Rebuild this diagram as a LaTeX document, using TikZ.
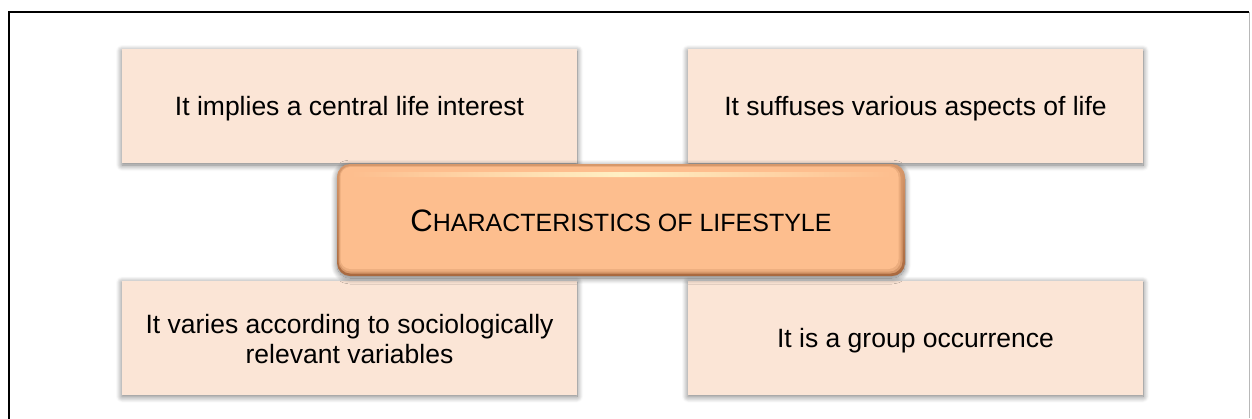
\documentclass[tikz,border=0pt]{standalone}
\usepackage{fontspec}
\setmainfont{Liberation Sans}
\usetikzlibrary{shadows.blur,calc}

\definecolor{boxfill}{HTML}{FBE5D6}
\definecolor{corefill}{HTML}{FDBE8E}
\definecolor{coreedge}{HTML}{A9693F}
\definecolor{corehi}{HTML}{FFF0C4}
\definecolor{rimgray}{HTML}{B8B8B8}

\tikzset{
  softshadow/.style={blur shadow={shadow xshift=0pt, shadow yshift=-2pt,
      shadow blur radius=6pt, shadow blur steps=10, shadow opacity=55}},
  trait/.style={fill=boxfill, minimum width=455pt, minimum height=114pt,
      inner sep=0pt, softshadow},
  traittext/.style={inner sep=0pt, align=center, text=black,
      font=\fontsize{26.5}{30}\selectfont},
  core/.style={rounded corners=13pt, minimum width=568pt, minimum height=112pt,
      inner sep=0pt, softshadow, top color=coreedge!45!corefill, bottom color=coreedge,
      path picture={
        \coordinate (pnw) at (path picture bounding box.north west);
        \coordinate (pse) at (path picture bounding box.south east);
        \fill[corefill!55!coreedge, rounded corners=12pt]
          ($(pnw)+(1.5,1)$) rectangle ($(pse)+(-2.5,-2.5)$);
        \fill[corefill!80!coreedge, rounded corners=11pt]
          ($(pnw)+(2.5,2)$) rectangle ($(pse)+(-4.5,-4.5)$);
        \fill[corefill, rounded corners=10pt]
          ($(pnw)+(3.5,3)$) rectangle ($(pse)+(-6.5,-7)$);
        \shade[left color=corefill, right color=corefill, middle color=corehi,
               rounded corners=2pt]
          ($(pnw)+(14,8)$) rectangle ($(pnw)+(554,13)$);
      }},
}

\begin{document}
\begin{tikzpicture}[x=1pt,y=-1pt]
  \useasboundingbox (0,0) rectangle (1252,418);

  % page frame
  \draw[line width=2pt, line cap=rect] (9,418) -- (9,12) -- (1248,12);
  \draw[rimgray, line width=0.8pt] (1249.5,12) -- (1249.5,418);

  % four characteristics
  \node[trait] (interest)  at (349.5,106) {};
  \node[trait] (aspects)   at (915.5,106) {};
  \node[trait] (variables) at (349.5,337.5) {};
  \node[trait] (group)     at (915.5,337.5) {};

  \node[traittext] (interesttext) at ($(interest.center)+(0,3)$)
    {It implies a central life interest};
  \node[traittext] (aspectstext) at ($(aspects.center)+(0,3)$)
    {It suffuses various aspects of life};
  \node[traittext] (variablestext) at ($(variables.center)+(0,2)$)
    {It varies according to sociologically\\relevant variables};
  \node[traittext] (grouptext) at ($(group.center)+(0,3)$)
    {It is a group occurrence};

  % central title
  \node[core] (core) at (621,220) {};
  \node[inner sep=0pt, text=black] (title) at ($(core.center)+(0,1)$)
    {\fontsize{31}{31}\selectfont C\fontsize{25}{25}\selectfont HARACTERISTICS OF LIFESTYLE};
\end{tikzpicture}
\end{document}
